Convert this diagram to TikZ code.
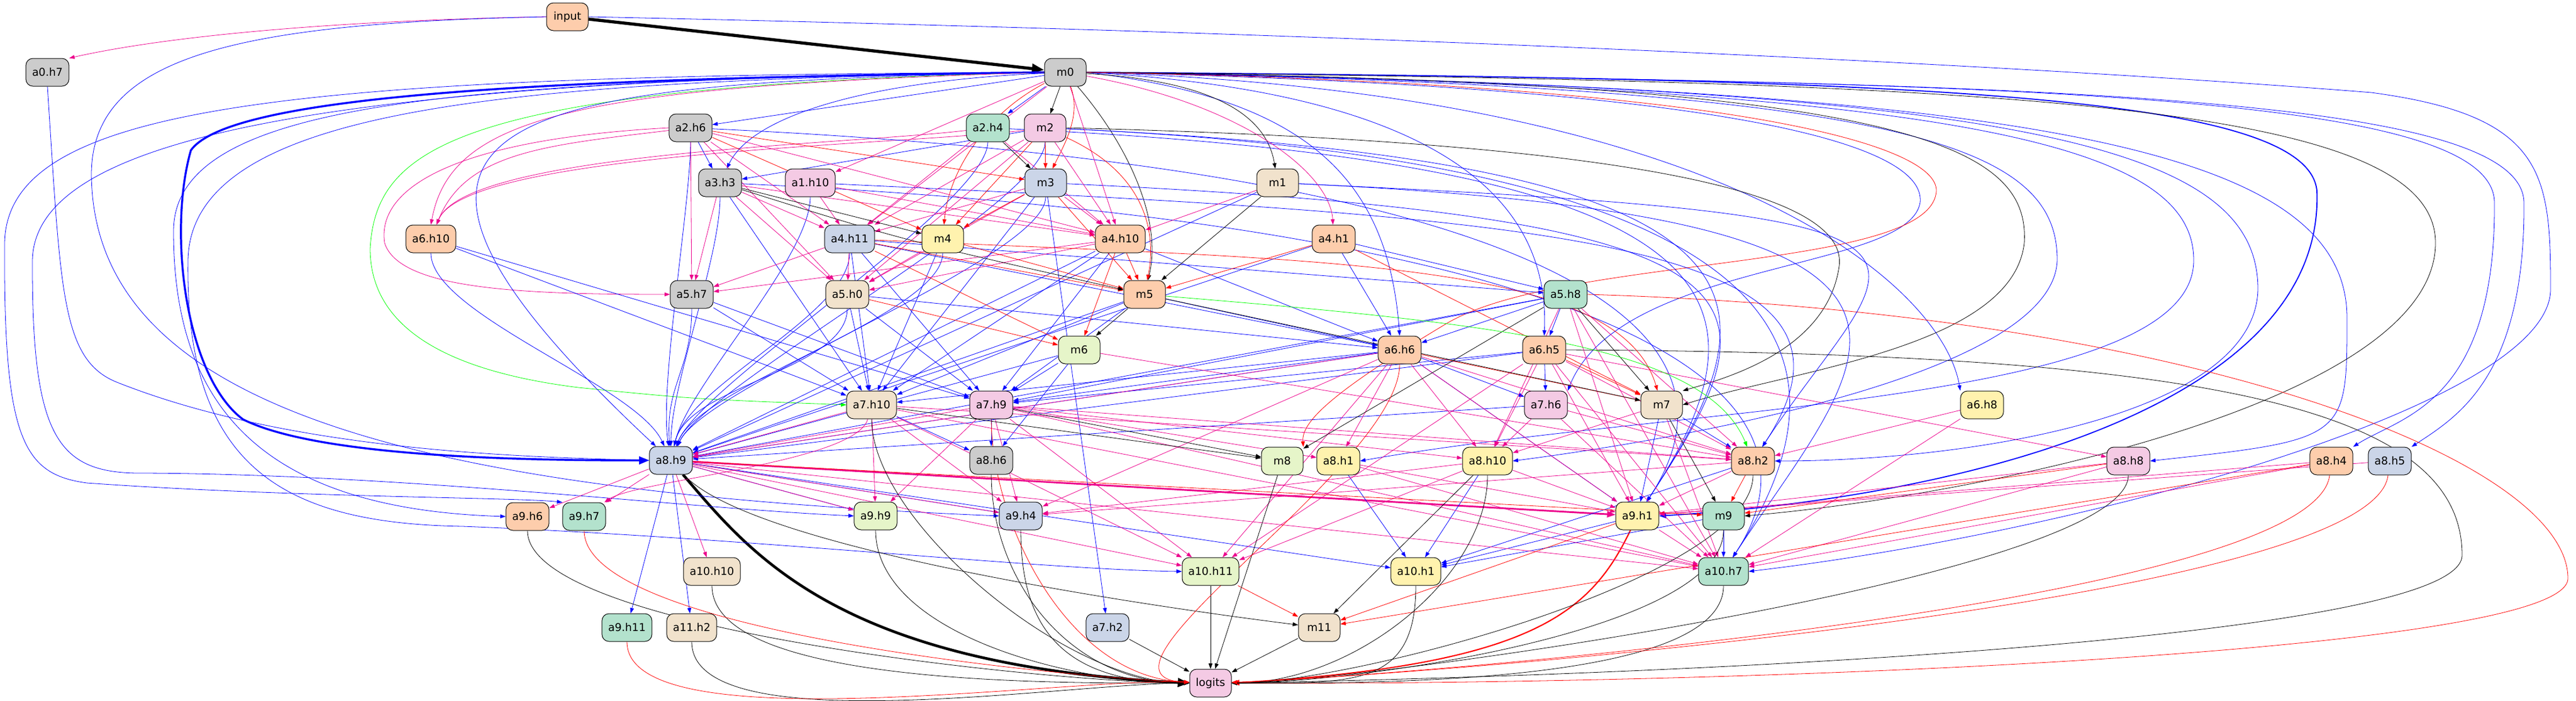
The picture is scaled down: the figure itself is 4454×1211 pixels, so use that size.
\documentclass[tikz,border=0pt]{standalone}
\usepackage{fontspec}
\setmainfont{DejaVu Sans}
\usetikzlibrary{arrows.meta}
\pgfdeclarelayer{bg}
\pgfsetlayers{bg,main}
\definecolor{cG}{HTML}{B3E2CD}
\definecolor{cO}{HTML}{FDCDAC}
\definecolor{cB}{HTML}{CBD5E8}
\definecolor{cP}{HTML}{F4CAE4}
\definecolor{cL}{HTML}{E6F5C9}
\definecolor{cY}{HTML}{FFF2AE}
\definecolor{cW}{HTML}{F1E2CC}
\definecolor{cK}{HTML}{CCCCCC}
\begin{document}
\begin{tikzpicture}[x=0.75pt,y=-0.75pt,
  nd/.style={draw,line width=0.75pt,rounded corners=9pt,minimum width=54pt,minimum height=36pt,inner xsep=8pt,inner ysep=0pt,font=\fontsize{14pt}{16pt}\selectfont},
  e/.style={-{Triangle[length=7pt,width=5pt]},line width=0.6pt},
  eb/.style={e,blue}, em/.style={e,magenta}, er/.style={e,red}, ek/.style={e,black}, eg/.style={e,green}]
\useasboundingbox (0,0) rectangle (4454,1211);
% nodes
\node[nd,fill=cO] (input) at (981,29) {input};
\node[nd,fill=cK] (a0h7) at (82,125) {a0.h7};
\node[nd,fill=cK] (m0) at (1842,125) {m0};
\node[nd,fill=cK] (a2h6) at (1194,221) {a2.h6};
\node[nd,fill=cG] (a2h4) at (1708,221) {a2.h4};
\node[nd,fill=cP] (m2) at (1807,221) {m2};
\node[nd,fill=cK] (a3h3) at (1245,316) {a3.h3};
\node[nd,fill=cP] (a1h10) at (1401,316) {a1.h10};
\node[nd,fill=cB] (m3) at (1808,316) {m3};
\node[nd,fill=cW] (m1) at (2209,316) {m1};
\node[nd,fill=cO] (a6h10) at (745,413) {a6.h10};
\node[nd,fill=cB] (a4h11) at (1469,413) {a4.h11};
\node[nd,fill=cY] (m4) at (1630,413) {m4};
\node[nd,fill=cO] (a4h10) at (1937,413) {a4.h10};
\node[nd,fill=cO] (a4h1) at (2306,413) {a4.h1};
\node[nd,fill=cK] (a5h7) at (1196,509) {a5.h7};
\node[nd,fill=cW] (a5h0) at (1465,509) {a5.h0};
\node[nd,fill=cO] (m5) at (1979,509) {m5};
\node[nd,fill=cG] (a5h8) at (2707,509) {a5.h8};
\node[nd,fill=cL] (m6) at (1866,605) {m6};
\node[nd,fill=cO] (a6h6) at (2420,605) {a6.h6};
\node[nd,fill=cO] (a6h5) at (2670,605) {a6.h5};
\node[nd,fill=cW] (a7h10) at (1507,700) {a7.h10};
\node[nd,fill=cP] (a7h9) at (1714,700) {a7.h9};
\node[nd,fill=cP] (a7h6) at (2673,700) {a7.h6};
\node[nd,fill=cW] (m7) at (2873,700) {m7};
\node[nd,fill=cY] (a6h8) at (3427,700) {a6.h8};
\node[nd,fill=cB] (a8h9) at (1160,796) {a8.h9};
\node[nd,fill=cK] (a8h6) at (1714,796) {a8.h6};
\node[nd,fill=cL] (m8) at (2217,797) {m8};
\node[nd,fill=cY] (a8h1) at (2314,797) {a8.h1};
\node[nd,fill=cY] (a8h10) at (2572,797) {a8.h10};
\node[nd,fill=cO] (a8h2) at (3031,797) {a8.h2};
\node[nd,fill=cP] (a8h8) at (3680,797) {a8.h8};
\node[nd,fill=cO] (a8h4) at (4031,797) {a8.h4};
\node[nd,fill=cB] (a8h5) at (4132,797) {a8.h5};
\node[nd,fill=cO] (a9h6) at (912,893) {a9.h6};
\node[nd,fill=cG] (a9h7) at (1010,893) {a9.h7};
\node[nd,fill=cL] (a9h9) at (1514,892) {a9.h9};
\node[nd,fill=cB] (a9h4) at (1765,892) {a9.h4};
\node[nd,fill=cY] (a9h1) at (2831,892) {a9.h1};
\node[nd,fill=cG] (m9) at (2980,892) {m9};
\node[nd,fill=cW] (a10h10) at (1231,988) {a10.h10};
\node[nd,fill=cL] (a10h11) at (2093,988) {a10.h11};
\node[nd,fill=cY] (a10h1) at (2448,988) {a10.h1};
\node[nd,fill=cG] (a10h7) at (2980,988) {a10.h7};
\node[nd,fill=cG] (a9h11) at (1084,1085) {a9.h11};
\node[nd,fill=cW] (a11h2) at (1196,1085) {a11.h2};
\node[nd,fill=cB] (a7h2) at (1915,1085) {a7.h2};
\node[nd,fill=cW] (m11) at (2281,1085) {m11};
\node[nd,fill=cP] (logits) at (2093,1181) {logits};
\begin{pgfonlayer}{bg}
% ---- heavy edges
\draw[black,line width=4pt,-{Triangle[length=16pt,width=12pt]}] (input) -- (m0);
\draw[blue,line width=2.6pt,-{Triangle[length=13pt,width=10pt]}] (m0.west) .. controls (1000,135) and (400,160) .. (330,260) .. controls (290,400) and (320,650) .. (420,725) .. controls (550,790) and (900,796) .. (a8h9.west);
\draw[black,line width=3.5pt,-{Triangle[length=15pt,width=11pt]}] (a8h9) .. controls (1300,960) and (1450,1150) .. (logits.west);
\draw[red,line width=1.6pt,-{Triangle[length=10pt,width=7pt]}] (a9h1) .. controls (2750,1060) and (2650,1150) .. (logits.east);
\draw[magenta,line width=2.2pt,-{Triangle[length=11pt,width=8pt]}] (a8h9) -- (a9h1);
\draw[blue,line width=1.4pt,-{Triangle[length=9pt,width=7pt]}] (m0.east) .. controls (3300,135) and (3990,160) .. (4006,330) .. controls (4020,700) and (3400,860) .. (a9h1.east);
% ---- left loops
\draw[em] (input.west) .. controls (600,35) and (300,60) .. (a0h7.north east);
\draw[eb] (input.west) .. controls (400,40) and (160,100) .. (158,300) .. controls (160,700) and (700,850) .. (a9h4.west);
\draw[eb] (a0h7.south) .. controls (105,500) and (105,620) .. (200,660) .. controls (500,780) and (900,790) .. (a8h9.west);
\draw[eb] (m0.west) .. controls (500,130) and (12,180) .. (8,420) .. controls (6,760) and (40,820) .. (150,835) .. controls (500,860) and (900,860) .. (a9h7.north west);
\draw[eb] (m0.west) .. controls (500,135) and (60,250) .. (56,450) .. controls (55,760) and (100,820) .. (250,818) .. controls (700,820) and (1200,880) .. (a9h9.west);
\draw[eb] (m0.west) .. controls (800,140) and (300,170) .. (300,400) .. controls (300,700) and (450,880) .. (a9h6.west);
\draw[eb] (m0.west) .. controls (900,140) and (330,180) .. (325,450) .. controls (320,800) and (480,905) .. (800,910) .. controls (1300,930) and (1800,985) .. (a10h11.west);
\draw[eg] (m0.west) .. controls (800,150) and (650,250) .. (640,430) .. controls (640,560) and (760,640) .. (1000,670) .. controls (1200,690) .. (a7h10.west);
\draw[em] (a2h6.west) .. controls (800,240) and (650,320) .. (665,420) .. controls (690,500) and (900,509) .. (a5h7.west);
\draw[em] (m0.west) .. controls (1000,150) and (780,200) .. (a6h10.north);
\foreach \s in {a2h6,a2h4,m2} \draw[em] (\s) .. controls +(-250,30) and +(60,-150) .. (a6h10);
\draw[eb] (m0.west) .. controls (900,145) and (500,180) .. (a8h9);
\foreach \s/\d in {a2h6/-20,a3h3/0,a6h10/-60,a5h7/-10,a4h11/30,a5h0/30,m3/60,a2h4/50,m2/60,m4/50,a1h10/30}
  \draw[eb] (\s) .. controls +(0,130) and +(\d,-130) .. (a8h9);
\foreach \s in {a4h10,m5,m6,a4h1,a5h8,a6h6,a6h5,a7h6,m1}
  \draw[eb] (\s) -- (a8h9);
% ---- right loops from m0
\draw[eb] (m0.east) .. controls (3500,140) and (4360,160) .. (4364,350) .. controls (4366,650) and (4250,720) .. (a8h5.north east);
\draw[eb] (m0.east) .. controls (3500,140) and (4310,160) .. (4313,350) .. controls (4315,700) and (4150,720) .. (a8h4.north east);
\draw[eb] (input.east) .. controls (2500,60) and (3600,120) .. (4100,160) .. controls (4400,200) and (4410,300) .. (4410,500) .. controls (4410,700) and (3600,920) .. (a10h7.east);
\draw[eb] (m0.east) .. controls (3500,150) and (3904,250) .. (3904,500) .. controls (3900,720) and (3400,797) .. (a8h2.east);
\draw[eb] (m0.east) .. controls (3500,150) and (4058,250) .. (4058,550) .. controls (4058,760) .. (a8h8.east);
\draw[eb] (m0.east) .. controls (3400,150) and (3793,250) .. (3793,450) .. controls (3793,700) and (2900,700) .. (a8h1.east);
\draw[eb] (m0.east) .. controls (3300,150) and (3557,250) .. (3557,450) .. controls (3550,650) and (2900,760) .. (a8h10.east);
\draw[eb] (m0.east) .. controls (2250,170) and (2400,300) .. (a6h6.north);
\draw[eb] (m0.east) .. controls (2500,160) and (2680,350) .. (a6h5.north);
\draw[eb] (m0.east) .. controls (3000,150) and (3330,250) .. (3320,350) .. controls (3300,470) and (2800,450) .. (a7h6.north east);
\draw[eb] (m0.east) .. controls (3000,160) and (3360,500) .. (a6h8.north west);
\draw[ek] (m0.east) .. controls (3300,140) and (3510,250) .. (3500,420) .. controls (3480,600) and (3100,640) .. (m7.east);
\draw[ek] (m0.east) .. controls (3500,140) and (4211,180) .. (4211,420) .. controls (4211,700) and (3400,860) .. (m9.east);
\draw[ek] (m2.east) .. controls (2600,240) and (3200,300) .. (3180,460) .. controls (3160,600) and (3000,650) .. (m7.north east);
\draw[ek] (a6h5.east) .. controls (3800,610) and (4257,700) .. (4257,960) .. controls (4257,1100) and (3000,1165) .. (logits.east);
\draw[er] (a5h8.east) .. controls (3800,540) and (4440,800) .. (4440,1000) .. controls (4440,1130) and (3000,1185) .. (logits.east);
\draw[er] (m0.east) .. controls (3000,145) and (3350,250) .. (3348,330) .. controls (3340,470) and (2700,440) .. (2500,560) .. controls (2300,680) and (2250,730) .. (m8.north east);
\draw[ek] (m0) .. controls (2100,140) and (2190,200) .. (m1);
\draw[ek] (m0) .. controls (1950,250) and (2010,380) .. (m5);
\draw[er] (m0) .. controls (1700,200) and (1640,300) .. (m4);
\draw[er] (m0) .. controls (1870,200) and (1840,250) .. (m3);
% blue from upper middle to right nodes
\foreach \s/\t in {m2/a9h1,a2h4/a9h1,m3/a9h1,a3h3/a10h7,m1/a10h7,m2/a10h7,a1h10/a8h2,a2h6/a9h1,m1/a8h2}
  \draw[eb] (\s) .. controls +(1300,60) and +(250,-380) .. (\t);
% ---- straight blue
\foreach \s/\t in {m0/a2h6,m0/a2h4,a2h6/a3h3,m2/a3h3,a4h1/a5h8,a4h11/a5h8,a4h1/a6h6,a4h11/a6h6,a4h10/a6h6,m5/a6h6,a5h0/a6h6,a5h8/a6h6,a5h8/a6h5,a6h6/a7h6,a6h5/a7h6,a4h11/a7h10,a3h3/a7h10,m3/a7h10,a5h7/a7h10,a5h0/a7h10,m5/a7h10,a6h6/a7h10,a6h10/a7h10,m4/a7h10,a4h11/a7h9,a5h7/a7h9,a5h0/a7h9,m5/a7h9,m6/a7h9,a6h6/a7h9,a5h8/a7h9,a6h5/a7h9,a6h10/a7h9,a7h10/a8h6,a7h9/a8h6,m6/a8h6,a6h6/a9h1,m7/a8h2,m7/a9h1,a8h2/a10h1,a9h1/a10h1,m9/a10h1,a8h1/a10h1,a8h10/a10h1,a8h9/a9h9,a8h9/a9h11,a8h9/a11h2,a8h9/a9h4,m9/a10h7,m3/a7h2,a4h10/a7h10,a4h10/a7h9,a8h9/a10h1}
  \draw[eb] (\s) -- (\t);
\draw[eb] (m0) .. controls (1500,140) and (1300,200) .. (a3h3);
% ---- straight magenta
\foreach \s/\t in {m0/a1h10,m0/a4h11,m0/a4h10,a2h6/a4h11,a2h6/a4h10,a2h6/a5h7,a2h6/a5h0,a2h4/a4h11,a2h4/a4h10,m2/a4h11,m2/a4h10,m2/a5h0,a3h3/a4h11,a3h3/a4h10,a3h3/a5h7,a3h3/a5h0,a1h10/a4h11,a1h10/a4h10,m3/a4h10,m3/a5h0,m3/a4h11,m1/a4h10,a4h11/a5h7,a4h11/a5h0,m4/a5h0,a4h10/a5h7,a4h10/a5h0,a7h10/a8h9,a7h9/a8h9,a7h10/a9h4,a7h10/a10h11,a7h10/a9h9,a7h10/a8h2,a7h10/a10h7,a7h9/a9h4,a7h9/a10h11,a7h9/a8h2,a7h9/a9h9,a7h9/a10h7,a7h9/a8h10,a7h9/a8h1,a8h9/a9h6,a8h9/a9h7,a8h9/a10h10,a8h9/a9h9,a8h9/a9h4,a8h9/a10h11,a8h9/a10h7,a6h6/a8h1,a6h6/a8h10,a6h6/a8h2,a6h6/a9h1,a6h6/a10h11,a6h6/a9h4,a6h5/a8h10,a6h5/a8h2,a6h5/a9h1,a6h5/a10h11,a6h5/a10h7,a6h5/a8h8,a7h6/a8h10,a7h6/a8h2,a7h6/a10h7,a5h8/a8h2,a5h8/a8h10,a5h8/a9h1,a5h8/a10h7,m7/a8h10,m7/a10h7,a8h2/a9h1,a6h8/a8h2,a6h8/a10h7,a8h8/a9h1,a8h8/a10h7,a8h4/a9h1,a8h4/a10h7,a8h5/a9h1,a8h1/a9h1,a8h10/a9h1,a8h10/a10h11,a8h1/a10h7,a9h1/a10h7,a8h10/a9h4,a8h2/a9h4,m6/a8h2,a6h6/a8h9}
  \draw[em] (\s) -- (\t);
\draw[em] (m0) .. controls (2150,180) and (2300,300) .. (a4h1);
\draw[em] (a7h10) .. controls (1480,800) and (1100,830) .. (a9h7);
% ---- straight red
\foreach \s/\t in {m2/m3,m2/m4,a2h6/m3,a2h6/m4,m3/m4,m3/m5,a4h11/m5,a4h11/m6,m4/m5,a4h10/m5,a4h10/m6,a4h1/m5,a5h0/m6,a6h6/m7,a6h5/m7,a8h9/m9,a8h2/m9,a8h8/m9,a9h1/m11,a10h11/m11,a8h4/m11,a4h1/m7}
  \draw[er] (\s) -- (\t);
\draw[er] (m2) .. controls (1980,300) and (2000,400) .. (m5);
\draw[er] (a4h11) .. controls (2300,450) and (2800,450) .. (m7);
% ---- straight black
\foreach \s/\t in {m0/m2,a2h4/m3,m5/m6,m7/m9,a7h10/m8,a7h9/m8,a5h8/m8,m5/m7,a5h8/m7,a8h10/m11,m1/m5,a3h3/m4,a10h11/logits,m8/logits,m11/logits,a7h2/logits}
  \draw[ek] (\s) -- (\t);
\draw[ek] (a3h3) .. controls (1560,415) .. (m5);
\draw[ek] (a8h9) .. controls (1300,950) and (2000,1050) .. (m11);
% ---- into logits (curved)
\foreach \s in {a7h10,a8h6,a9h9,a9h4,a10h10,a11h2,a9h6}
  \draw[ek] (\s) .. controls +(0,200) and +(-250,0) .. (logits);
\foreach \s in {a8h10,a10h1,m9,a10h7,a8h2,a8h8}
  \draw[ek] (\s) .. controls +(0,200) and +(250,0) .. (logits);
\foreach \s in {a9h7,a9h11,a7h9,a6h6}
  \draw[er] (\s) .. controls +(0,200) and +(-250,-10) .. (logits);
\foreach \s in {a8h4,a8h5}
  \draw[er] (\s) .. controls +(-30,250) and +(300,-10) .. (logits);
% ---- green
\draw[eg] (m5) .. controls (2600,560) and (2950,600) .. (a8h2);
\end{pgfonlayer}
\end{tikzpicture}
\end{document}
